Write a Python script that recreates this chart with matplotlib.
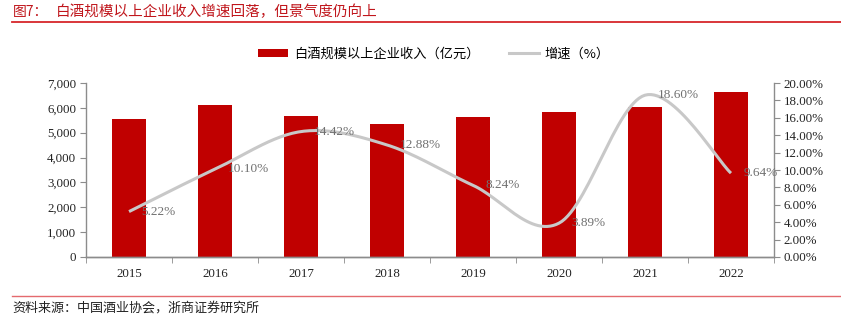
import numpy as np
import matplotlib
matplotlib.use('Agg')
import matplotlib.pyplot as plt
from matplotlib.lines import Line2D
from matplotlib.patches import Patch
from matplotlib.ticker import FuncFormatter, MultipleLocator, FixedLocator

# 数据
years = ['2015', '2016', '2017', '2018', '2019', '2020', '2021', '2022']
revenue = [5559, 6126, 5654, 5364, 5618, 5836, 6033, 6627]      # 亿元
growth = [5.22, 10.10, 14.42, 12.88, 8.24, 3.89, 18.60, 9.64]   # %

red = '#C00000'
grey_line = '#C8C8C8'
axis_grey = '#8C8C8C'
cjk = ['Noto Sans CJK SC', 'DejaVu Sans']
serif = ['Liberation Serif', 'DejaVu Serif']

fig = plt.figure(figsize=(8.41, 3.21), dpi=100)
ax = fig.add_axes([0.1023, 0.1994, 0.818, 0.542])
ax2 = ax.twinx()

x = np.arange(len(years))
ax.bar(x, revenue, width=0.4, color=red, zorder=2)
ax.set_xlim(-0.5, len(years) - 0.5)
ax.set_ylim(0, 7000)
ax.yaxis.set_major_locator(MultipleLocator(1000))
ax.yaxis.set_major_formatter(FuncFormatter(lambda v, p: f'{v:,.0f}'))
ax.set_xticks(x)
ax.set_xticklabels(years)
ax.xaxis.set_minor_locator(FixedLocator(np.arange(-0.5, len(years), 1.0)))
ax.tick_params(axis='x', which='major', length=0, pad=8)
ax.tick_params(axis='x', which='minor', length=4, color=axis_grey, direction='out')
ax.tick_params(axis='y', length=4, color=axis_grey, direction='out', pad=3)

# 平滑曲线 (Catmull-Rom, 类似 Excel 平滑线)
def smooth(xs, ys, n=30):
    pts = np.column_stack([xs, ys]).astype(float)
    p = np.vstack([pts[0], pts, pts[-1]])
    out = []
    for i in range(1, len(p) - 2):
        p0, p1, p2, p3 = p[i - 1], p[i], p[i + 1], p[i + 2]
        c1 = p1 + (p2 - p0) / 6
        c2 = p2 - (p3 - p1) / 6
        t = np.linspace(0, 1, n)[:, None]
        seg = (1 - t) ** 3 * p1 + 3 * (1 - t) ** 2 * t * c1 + 3 * (1 - t) * t ** 2 * c2 + t ** 3 * p2
        out.append(seg if i == 1 else seg[1:])
    out = np.vstack(out)
    return out[:, 0], out[:, 1]

sx, sy = smooth(x, growth)
ax2.plot(sx, sy, color=grey_line, lw=2.2, solid_capstyle='butt', zorder=3)
for xi, g in zip(x, growth):
    ax2.annotate(f'{g:.2f}%', (xi, g), xytext=(9, 0), textcoords='offset points',
                 ha='left', va='center', fontsize=9.5, color='#707070', family=serif)
ax2.set_ylim(0, 20)
ax2.yaxis.set_major_locator(MultipleLocator(2))
ax2.yaxis.set_major_formatter(FuncFormatter(lambda v, p: f'{v:.2f}%'))
ax2.tick_params(axis='y', length=4, color=axis_grey, direction='out', pad=3)

for a in (ax, ax2):
    a.spines['top'].set_visible(False)
    for s in ('left', 'right', 'bottom'):
        a.spines[s].set_color(axis_grey)
        a.spines[s].set_linewidth(1.0)
    for lab in a.get_yticklabels() + a.get_xticklabels():
        lab.set_family(serif)
        lab.set_fontsize(9.3)
        lab.set_color('#222222')
ax.spines['right'].set_visible(False)
ax2.spines['left'].set_visible(False)
ax.set_zorder(ax2.get_zorder() - 1)
ax.patch.set_visible(False)

handles = [Patch(facecolor=red, edgecolor='none'),
           Line2D([0], [0], color=grey_line, lw=2.2)]
labels = ['白酒规模以上企业收入（亿元）', '增速（%）']
fig.legend(handles, labels, loc='center', bbox_to_anchor=(0.516, 0.832), ncol=2,
           frameon=False, prop={'family': cjk, 'size': 9.5}, handlelength=2.3,
           handleheight=0.6, columnspacing=2.2, handletextpad=0.45)

# 标题与来源
fig.text(0.015, 0.962, '图7：', color='#C0161C', fontsize=10, family=cjk, va='center')
fig.text(0.067, 0.962, '白酒规模以上企业收入增速回落，但景气度仍向上', color='#C0161C',
         fontsize=10.5, family=cjk, va='center')
fig.add_artist(Line2D([0.014, 1.0], [0.931, 0.931], color='#D7262B', lw=1.3))
fig.add_artist(Line2D([0.014, 1.0], [0.078, 0.078], color='#E46A6E', lw=1.0))
fig.text(0.015, 0.04, '资料来源：中国酒业协会，浙商证券研究所', color='#222222',
         fontsize=9.4, family=cjk, va='center')

fig.savefig('out.png', dpi=100)
